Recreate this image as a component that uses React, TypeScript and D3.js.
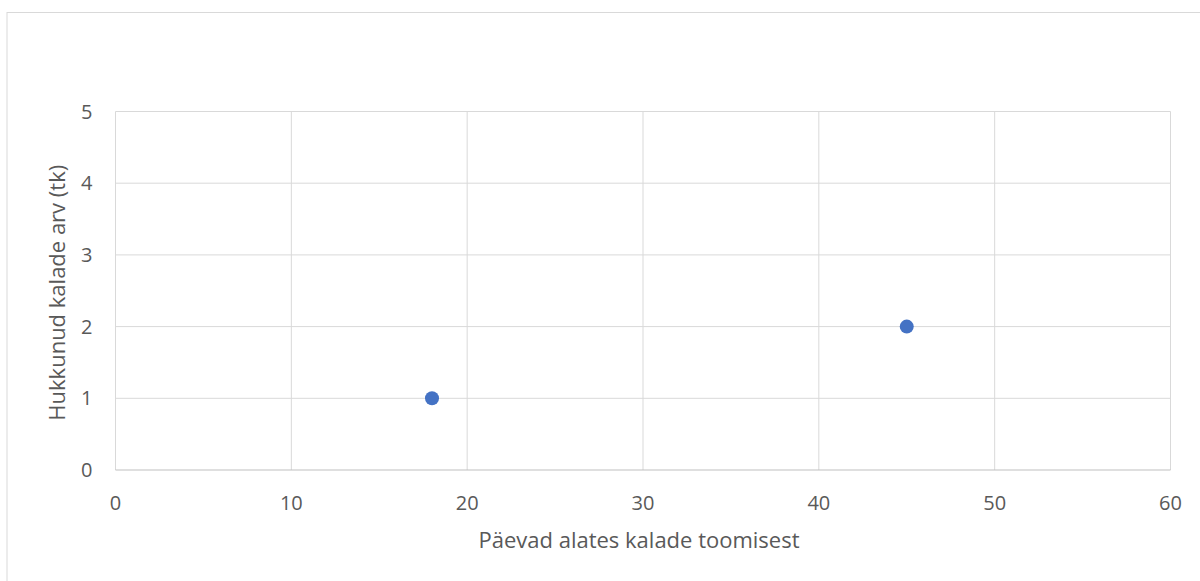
import React from "react";
import * as d3 from "d3";

const xValues = [18, 45];
const yValues = [1, 2];
const xTicks = [0, 10, 20, 30, 40, 50, 60];
const yTicks = [0, 1, 2, 3, 4, 5];
const xTitle = "Päevad alates kalade toomisest";
const yTitle = "Hukkunud kalade arv (tk)";

export default function App() {
  const W = 1200, H = 581;
  const left = 115.5, right = 1170.5, top = 111.5, bottom = 470;
  const x = d3.scaleLinear().domain([0, 60]).range([left, right]);
  const y = d3.scaleLinear().domain([0, 5]).range([bottom, top]);
  const font = "'Open Sans', sans-serif";
  return (
    <svg width={W} height={H} style={{ position: "absolute", left: 0, top: 0, background: "#fff" }} fontFamily={font}>
      <rect x={7} y={12.5} width={1300} height={700} fill="#fff" stroke="#d9d9d9" strokeWidth={1} />
      {xTicks.map((t) => (
        <line key={"gx" + t} x1={x(t)} x2={x(t)} y1={top} y2={bottom} stroke="#d9d9d9" strokeWidth={1} />
      ))}
      {yTicks.map((t) => (
        <line key={"gy" + t} x1={left} x2={right} y1={y(t)} y2={y(t)} stroke={t === 0 ? "#bfbfbf" : "#d9d9d9"} strokeWidth={1} />
      ))}
      {yTicks.map((t) => (
        <text key={"ly" + t} x={92.5} y={y(t)} dy="0.35em" textAnchor="end" fontSize={20} fill="#595959">{t}</text>
      ))}
      {xTicks.map((t) => (
        <text key={"lx" + t} x={x(t)} y={503} dy="0.35em" textAnchor="middle" fontSize={20} fill="#595959">{t}</text>
      ))}
      <text x={(left + right) / 2 - 4} y={540} dy="0.35em" textAnchor="middle" fontSize={22} fill="#595959">{xTitle}</text>
      <text transform={`translate(57,${(top + bottom) / 2 + 2}) rotate(-90)`} dy="0.35em" textAnchor="middle" fontSize={22} fill="#595959">{yTitle}</text>
      {xValues.map((v, i) => (
        <circle key={"p" + i} cx={x(v)} cy={y(yValues[i])} r={7} fill="#4472C4" />
      ))}
    </svg>
  );
}
